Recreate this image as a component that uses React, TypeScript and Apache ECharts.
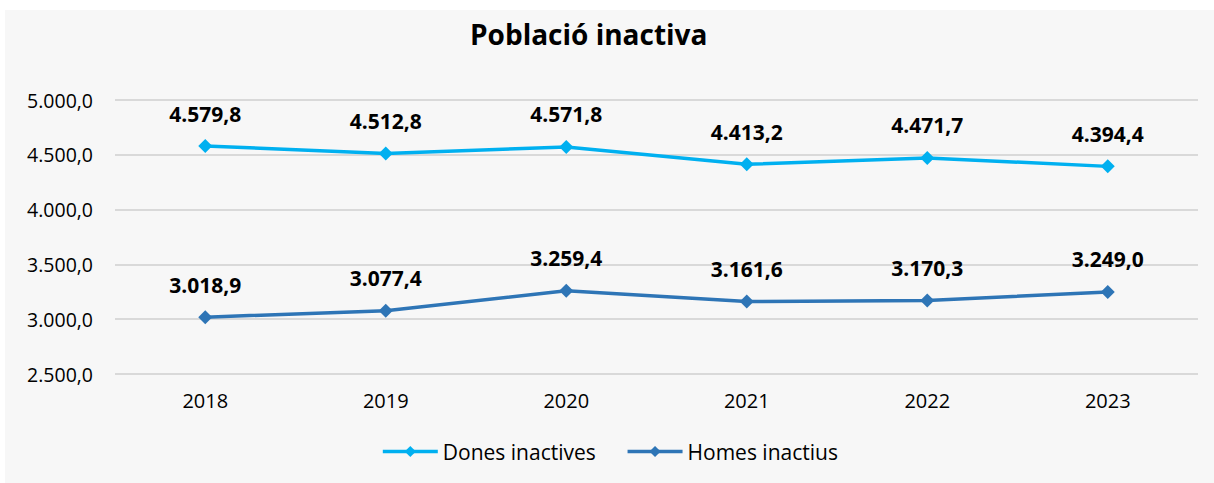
import React, { useEffect, useRef } from "react";
import * as echarts from "echarts";

const years = ["2018", "2019", "2020", "2021", "2022", "2023"];
const dones = [4579.8, 4512.8, 4571.8, 4413.2, 4471.7, 4394.4];
const homes = [3018.9, 3077.4, 3259.4, 3161.6, 3170.3, 3249.0];
const seriesNames = ["Dones inactives", "Homes inactius"];
const title = "Població inactiva";

const fmt = (v: number) => {
  const [i, d] = v.toFixed(1).split(".");
  return i.replace(/\B(?=(\d{3})+(?!\d))/g, ".") + "," + d;
};

const FONT = "'Open Sans', 'Noto Sans', sans-serif";

export default function App() {
  const ref = useRef<HTMLDivElement>(null);
  useEffect(() => {
    const chart = echarts.init(ref.current!, null, { renderer: "svg" });
    const mkSeries = (name: string, data: number[], color: string) => ({
      name,
      type: "line",
      data,
      symbol: "diamond",
      symbolSize: 14,
      lineStyle: { width: 3.5, color },
      itemStyle: { color },
      label: {
        show: true,
        position: "top",
        distance: 15,
        formatter: (p: any) => fmt(p.value),
        fontFamily: FONT,
        fontWeight: "bold",
        fontSize: 21,
        color: "#000",
      },
    });
    chart.setOption({
      animation: false,
      backgroundColor: "#f7f7f7",
      title: {
        text: title,
        left: 460,
        top: 5,
        textStyle: { fontFamily: FONT, fontWeight: "bold", fontSize: 28, color: "#000" },
      },
      legend: {
        bottom: 16,
        left: "center",
        itemWidth: 55,
        itemHeight: 14,
        itemGap: 30,
        lineStyle: { width: 3.5 },
        textStyle: { fontFamily: FONT, fontSize: 21, color: "#000" },
        data: seriesNames,
      },
      grid: { left: 110, right: 16, top: 90, bottom: 109 },
      xAxis: {
        type: "category",
        data: years,
        boundaryGap: true,
        axisLine: { show: false },
        axisTick: { show: false },
        axisLabel: { fontFamily: FONT, fontSize: 20, color: "#000", margin: 16 },
      },
      yAxis: {
        type: "value",
        min: 2500,
        max: 5000,
        interval: 500,
        axisLine: { show: false },
        axisTick: { show: false },
        splitLine: { lineStyle: { color: "#d9d9d9", width: 2 } },
        axisLabel: {
          fontFamily: FONT,
          fontSize: 19.5,
          color: "#000",
          margin: 22,
          formatter: (v: number) => fmt(v),
        },
      },
      series: [
        mkSeries(seriesNames[0], dones, "#00b0f0"),
        mkSeries(seriesNames[1], homes, "#2e75b6"),
      ],
    });
    return () => chart.dispose();
  }, []);
  return (
    <div
      ref={ref}
      style={{ position: "absolute", left: 5, top: 10, width: 1209, height: 473 }}
    />
  );
}
